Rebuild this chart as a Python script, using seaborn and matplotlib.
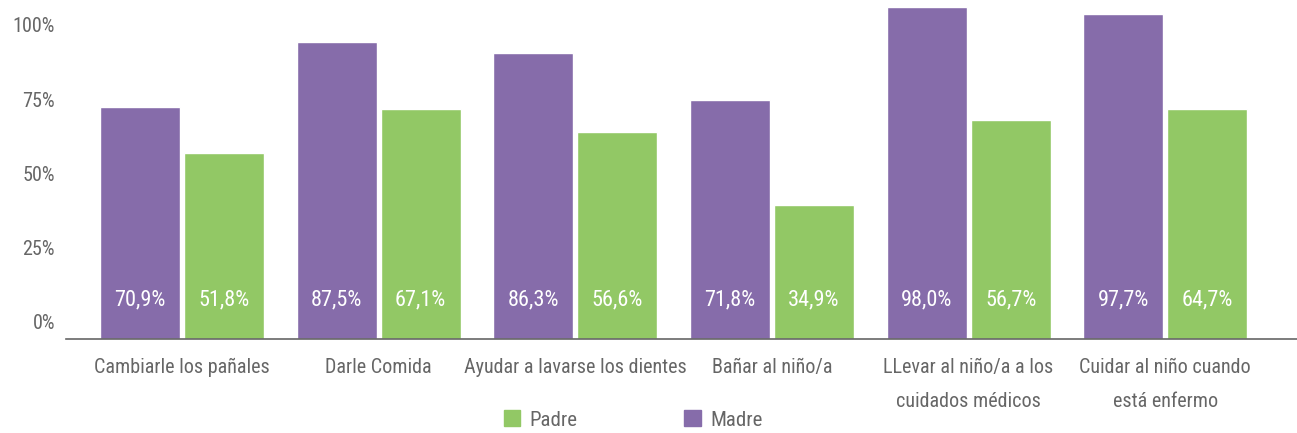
import matplotlib.pyplot as plt
import matplotlib.patches as mpatches
import pandas as pd
import seaborn as sns

# Datos
categorias = ['Cambiarle los pañales', 'Darle Comida', 'Ayudar a lavarse los dientes',
              'Bañar al niño/a', 'LLevar al niño/a a los\ncuidados médicos',
              'Cuidar al niño cuando\nestá enfermo']
# altura de las barras segun el eje (en %)
madre_alto = [72.3, 94.3, 90.6, 74.7, 106.1, 103.7]
padre_alto = [56.9, 71.7, 64.0, 39.4, 68.0, 71.7]
# etiquetas mostradas dentro de las barras
madre_txt = ['70,9%', '87,5%', '86,3%', '71,8%', '98,0%', '97,7%']
padre_txt = ['51,8%', '67,1%', '56,6%', '34,9%', '56,7%', '64,7%']
ticks_y = [0, 25, 50, 75, 100]

morado = '#866CAA'
verde = '#92C865'
gris = '#666666'

# la linea base del grafico esta un poco por debajo del 0%
base = 5.9

df = pd.DataFrame({
    'categoria': categorias * 2,
    'serie': ['Madre'] * 6 + ['Padre'] * 6,
    'valor': [v + base for v in madre_alto] + [v + base for v in padre_alto],
})

sns.set_style('white')
plt.rcParams['font.family'] = ['Roboto Condensed', 'Roboto', 'DejaVu Sans']

fig = plt.figure(figsize=(12.97, 4.33), dpi=100)
ax = fig.add_axes([66 / 1297, 0.216, 1 - 66 / 1297, 0.784])

sns.barplot(data=df, x='categoria', y='valor', hue='serie', hue_order=['Madre', 'Padre'],
            palette=[morado, verde], width=0.855, gap=0.05, saturation=1,
            legend=False, ax=ax)

# etiquetas blancas dentro de cada barra
for cont, txts in zip(ax.containers, [madre_txt, padre_txt]):
    for bar, t in zip(cont, txts):
        ax.text(bar.get_x() + bar.get_width() / 2, base + 7.4, t, color='white',
                ha='center', va='center', fontsize=16)

ax.set_xlim(-0.59, 5.67)
ax.set_ylim(0, 114.3)
ax.set_yticks([t + base for t in ticks_y])
ax.set_yticklabels([f'{t}%' for t in ticks_y])
ax.set_xlabel('')
ax.set_ylabel('')
ax.tick_params(axis='y', length=0, pad=8, labelsize=14.5, labelcolor=gris)
ax.tick_params(axis='x', length=0, pad=13, labelsize=14.5, labelcolor=gris)
for lbl in ax.get_xticklabels():
    lbl.set_linespacing(2.0)

for s in ['top', 'right', 'left']:
    ax.spines[s].set_visible(False)
ax.spines['bottom'].set_color(gris)
ax.spines['bottom'].set_linewidth(1.2)

handles = [mpatches.Patch(color=verde, label='Padre'), mpatches.Patch(color=morado, label='Madre')]
fig.legend(handles=handles, loc='center', bbox_to_anchor=(0.488, 0.03), ncol=2, frameon=False,
           fontsize=15, labelcolor=gris, handlelength=0.8, handleheight=0.8,
           handletextpad=0.45, columnspacing=5.1)

fig.savefig('out.png', dpi=100)
